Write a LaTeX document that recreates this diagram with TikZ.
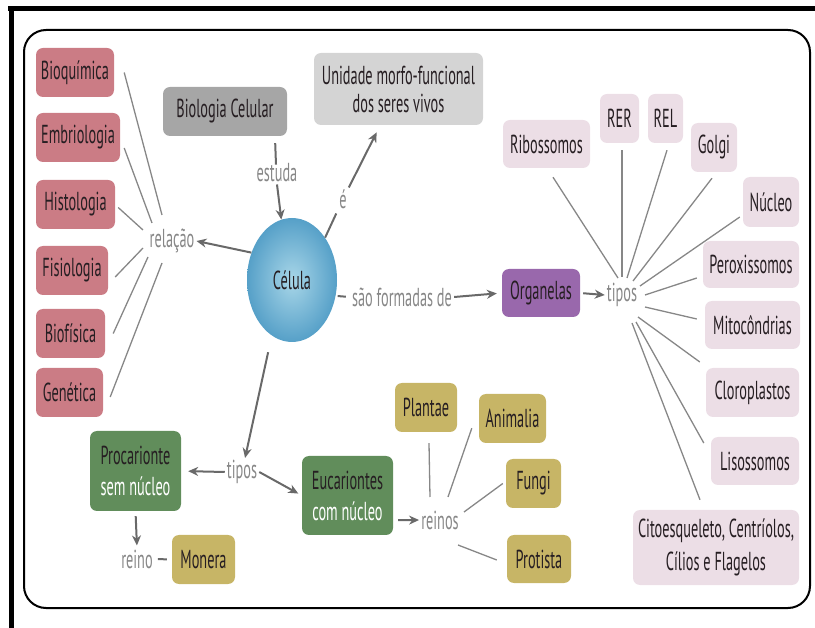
\documentclass[tikz,border=0pt]{standalone}
\usepackage{fontspec}
\setmainfont[FakeStretch=0.55]{PT Sans}
\usetikzlibrary{arrows.meta}
\usetikzlibrary{calc}
\usetikzlibrary{shapes.geometric}

\definecolor{rosa}{RGB}{203,124,133}
\definecolor{cinza}{RGB}{166,166,166}
\definecolor{cinzaclaro}{RGB}{212,212,212}
\definecolor{lilas}{RGB}{236,222,230}
\definecolor{roxo}{RGB}{153,104,172}
\definecolor{verde}{RGB}{97,141,91}
\definecolor{oliva}{RGB}{199,181,102}
\definecolor{linha}{RGB}{135,135,135}
\definecolor{cinzaseta}{RGB}{105,105,105}
\definecolor{texto}{RGB}{38,30,34}

\begin{document}
\begin{tikzpicture}[x=1pt,y=-1pt,
  caixa/.style={rounded corners=7pt, text=texto, align=center, inner sep=0pt,
    minimum height=49pt, font=\fontsize{26}{28}\selectfont},
  rotulo/.style={text=linha, inner sep=2pt, font=\fontsize{26}{28}\selectfont},
  liga/.style={linha, line width=1.3pt},
  traco/.style={cinzaseta, line width=2pt},
  seta/.style={cinzaseta, line width=2pt, -{Stealth[length=10pt,width=9pt]}}]

\useasboundingbox (0,0) rectangle (815,628);

% moldura
\draw[line width=5pt] (8,9) -- (815,9);
\draw[line width=5pt] (11,7) -- (11,628);
\draw[line width=2pt, rounded corners=22pt] (24,30) rectangle (810,608);

% areas de estudo
\node[caixa, fill=rosa, minimum width=78pt] (bioq) at (75,72.5) {Bioquímica};
\node[caixa, fill=rosa, minimum width=84pt] (embr) at (78,137.5) {Embriologia};
\node[caixa, fill=rosa, minimum width=79pt] (hist) at (75.5,204.5) {Histologia};
\node[caixa, fill=rosa, minimum width=72pt] (fisi) at (72,270.5) {Fisiologia};
\node[caixa, fill=rosa, minimum width=69pt] (biof) at (70.5,333.5) {Biofísica};
\node[caixa, fill=rosa, minimum width=67pt] (gene) at (69.5,392.5) {Genética};

\node[caixa, fill=cinza, minimum width=124pt] (biocel) at (225,111.5) {Biologia Celular};
\node[caixa, fill=cinzaclaro, minimum width=169pt, minimum height=72pt] (unid) at (398.5,89)
  {Unidade morfo-funcional\\dos seres vivos};

\node[ellipse, minimum width=90pt, minimum height=124pt, inner sep=0pt, text=texto,
  shading=radial, inner color={rgb,255:red,168;green,214;blue,232},
  outer color={rgb,255:red,86;green,160;blue,200},
  font=\fontsize{26}{28}\selectfont] (celula) at (292,280) {Célula};

\node[rotulo] (estuda) at (277,173) {estuda};
\node[rotulo] (elabel) at (343,199) {é};
\node[rotulo] (relacao) at (172,241) {relação};
\node[rotulo] (saoform) at (402,297) {são formadas de};

% organelas
\node[caixa, fill=roxo, minimum width=78pt, minimum height=48pt] (organelas) at (541,293) {Organelas};
\node[rotulo] (tipos) at (622,295) {tipos};

\node[caixa, fill=lilas, minimum width=87pt, minimum height=48pt] (ribo) at (546.5,144) {Ribossomos};
\node[caixa, fill=lilas, minimum width=39pt] (rer) at (619.5,118.5) {RER};
\node[caixa, fill=lilas, minimum width=35pt] (rel) at (665.5,118.5) {REL};
\node[caixa, fill=lilas, minimum width=46pt] (golgi) at (714,147.5) {Golgi};
\node[caixa, fill=lilas, minimum width=56pt, minimum height=50pt] (nucleo) at (771,202) {Núcleo};
\node[caixa, fill=lilas, minimum width=96pt, minimum height=47pt] (perox) at (751,264.5) {Peroxissomos};
\node[caixa, fill=lilas, minimum width=95pt, minimum height=48pt] (mito) at (752.5,325) {Mitocôndrias};
\node[caixa, fill=lilas, minimum width=93pt] (cloro) at (752.5,392.5) {Cloroplastos};
\node[caixa, fill=lilas, minimum width=88pt, minimum height=48pt] (liso) at (755,461) {Lisossomos};
\node[caixa, fill=lilas, minimum width=166pt, minimum height=75pt,
  font=\fontsize{26}{33}\selectfont] (cito) at (716,547.5)
  {Citoesqueleto, Centríolos,\\Cílios e Flagelos};

% tipos de celula
\node[rotulo] (tipos2) at (242,472) {tipos};
\node[caixa, fill=verde, minimum width=91pt, minimum height=80pt,
  font=\fontsize{26}{31}\selectfont] (proc) at (135.5,471)
  {Procarionte\\\textcolor{white}{sem núcleo}};
\node[caixa, fill=verde, minimum width=91pt, minimum height=79pt,
  font=\fontsize{26}{31}\selectfont] (euca) at (347.5,495.5)
  {Eucariontes\\\textcolor{white}{com núcleo}};
\node[rotulo] (reino) at (137,559) {reino};
\node[caixa, fill=oliva, minimum width=63pt] (monera) at (203.5,559.5) {Monera};
\node[rotulo] (reinos) at (440,520) {reinos};
\node[caixa, fill=oliva, minimum width=62pt] (plantae) at (426,407.5) {Plantae};
\node[caixa, fill=oliva, minimum width=67pt] (animalia) at (512.5,418.5) {Animalia};
\node[caixa, fill=oliva, minimum width=55pt] (fungi) at (533.5,483.5) {Fungi};
\node[caixa, fill=oliva, minimum width=64pt, minimum height=48pt] (protista) at (539,559) {Protista};

% ligacoes
\draw[liga] ($(bioq.east)+(10,0)$) -- ($(relacao)+(-10,-26)$);
\draw[liga] ($(embr.east)+(4,10.5)$) -- ($(relacao)+(-20,-18)$);
\draw[liga] ($(hist.east)+(3,3)$) -- ($(relacao)+(-29,-11)$);
\draw[liga] ($(fisi.east)+(7,6.5)$) -- ($(relacao)+(-29,7)$);
\draw[liga] ($(biof.east)+(8,0)$) -- ($(relacao)+(-24,16)$);
\draw[liga] ($(gene.east)+(7,4.5)$) -- ($(relacao)+(-10,22)$);
\draw[seta] (celula.146) -- (relacao.east);

\draw[traco] ($(biocel.south east)+(-12,7)$) -- ($(estuda.north)+(-1,3)$);
\draw[seta] (estuda.south) -- (celula.100);
\draw[traco, shorten >=3pt] (celula.52) -- (elabel);
\draw[seta, shorten >=8pt] (elabel) -- (unid);

\draw[traco, shorten <=2pt, shorten >=4pt] (celula.-20) -- (saoform.west);
\draw[seta, shorten >=5pt] (saoform.east) -- (organelas.west);
\draw[seta, shorten <=3pt] (organelas.east) -- (tipos.west);

\draw[liga] ($(ribo.south)+(6.5,9)$) -- ($(tipos)+(-4,-17)$);
\draw[liga] ($(rer.south)+(2.5,7)$) -- ($(tipos)+(0,-18)$);
\draw[liga] ($(rel.south)+(1.5,7)$) -- ($(tipos)+(5,-17)$);
\draw[liga] ($(golgi.south)+(-2,6)$) -- ($(tipos)+(11,-14)$);
\draw[liga] ($(nucleo.west)+(-3,15)$) -- ($(tipos)+(18,-9)$);
\draw[liga] ($(perox.west)+(-6,13.5)$) -- ($(tipos)+(23,0)$);
\draw[liga] ($(mito.west)+(-8,-6)$) -- ($(tipos)+(23,12)$);
\draw[liga] ($(cloro.west)+(-6,-30.5)$) -- ($(tipos)+(16,22)$);
\draw[liga] ($(liso.west)+(-7,-18)$) -- ($(tipos)+(14,27)$);
\draw[liga] ($(cito.north)+(-16,-10)$) -- ($(tipos)+(10,28)$);

\draw[seta, shorten <=17pt] (celula.250) -- (tipos2);
\draw[seta, shorten >=7pt] (tipos2.west) -- (proc.east);
\draw[seta, shorten >=4pt] (tipos2.east) -- (euca.west);
\draw[seta, shorten <=5pt, shorten >=2pt] (proc.south) -- (reino.north);
\draw[traco, shorten <=3pt, shorten >=5pt] (reino.east) -- (monera.west);
\draw[seta] ($(euca.south east)+(5,-15)$) -- (reinos.west);

\draw[liga] ($(plantae.south)+(3,11)$) -- ($(reinos)+(-10,-23)$);
\draw[liga] ($(animalia.south west)+(-7,-15)$) -- ($(reinos)+(8,-23)$);
\draw[liga] ($(fungi.west)+(-3,0)$) -- ($(reinos)+(24,-8)$);
\draw[liga] ($(protista.west)+(-10,1)$) -- ($(reinos)+(18,25)$);

\end{tikzpicture}
\end{document}
